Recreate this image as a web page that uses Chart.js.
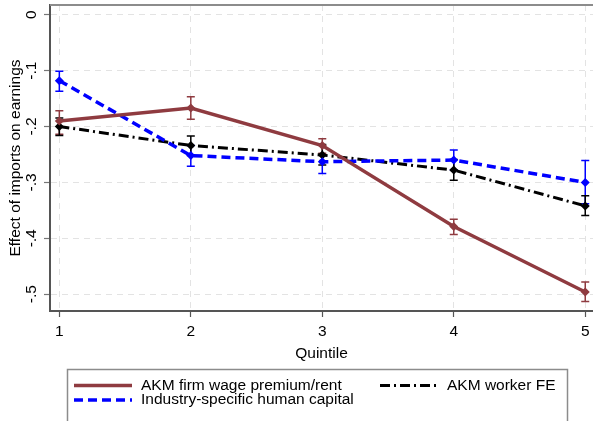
<!DOCTYPE html>
<html>
<head>
<meta charset="utf-8">
<script src="https://cdn.jsdelivr.net/npm/chart.js@4/dist/chart.umd.min.js"></script>
<style>
  html, body { margin: 0; padding: 0; background: #fff; overflow: hidden; }
  #wrap { width: 593px; height: 421px; }
</style>
</head>
<body>
<div id="wrap"><canvas id="chart" width="593" height="421"></canvas></div>
<script>
const FONT = "'Liberation Sans', Arial, sans-serif";

// quintiles on the x axis
const quintiles = [1, 2, 3, 4, 5];
const yTicks = [0, -0.1, -0.2, -0.3, -0.4, -0.5];

// AKM firm wage premium/rent: point estimate + 95% CI
const firmPremium = [-0.190, -0.167, -0.234, -0.379, -0.496];
const firmLo = [-0.214, -0.187, -0.248, -0.393, -0.513];
const firmHi = [-0.172, -0.147, -0.222, -0.366, -0.478];

// Industry-specific human capital
const humanCap = [-0.118, -0.252, -0.263, -0.260, -0.300];
const humanLo = [-0.137, -0.271, -0.284, -0.278, -0.338];
const humanHi = [-0.101, -0.234, -0.251, -0.242, -0.261];

// AKM worker FE
const workerFE = [-0.200, -0.234, -0.251, -0.278, -0.342];
const workerLo = [-0.216, -0.252, -0.269, -0.296, -0.359];
const workerHi = [-0.185, -0.217, -0.232, -0.259, -0.324];

const RED = "#8f3b40";
const BLUE = "#0000ff";
const BLACK = "#000000";

const toPoints = (vals) => vals.map((v, i) => ({ x: quintiles[i], y: v }));

// Stata-style labels: -.1 instead of -0.1
const fmt = (v) => {
  if (Math.abs(v) < 1e-9) return "0";
  return (v < 0 ? "-" : "") + Math.abs(v).toFixed(1).replace(/^0/, "");
};

// caps for the confidence intervals
const errorBars = {
  id: "errorBars",
  beforeDatasetsDraw(chart) {
    const { ctx, scales: { x, y } } = chart;
    chart.data.datasets.forEach((ds) => {
      ctx.save();
      ctx.strokeStyle = ds.borderColor;
      ctx.lineWidth = 1.5;
      ctx.setLineDash([]);
      ds.ci.lo.forEach((lo, i) => {
        const px = x.getPixelForValue(quintiles[i]);
        const y1 = y.getPixelForValue(lo);
        const y2 = y.getPixelForValue(ds.ci.hi[i]);
        ctx.beginPath();
        ctx.moveTo(px, y1); ctx.lineTo(px, y2);
        ctx.moveTo(px - 4, y1); ctx.lineTo(px + 4, y1);
        ctx.moveTo(px - 4, y2); ctx.lineTo(px + 4, y2);
        ctx.stroke();
      });
      ctx.restore();
    });
  }
};

// vertical y tick labels, top border and the boxed legend
const decorations = {
  id: "decorations",
  afterDraw(chart) {
    const { ctx, chartArea, scales: { y } } = chart;
    ctx.save();

    ctx.strokeStyle = "#8c8c8c";
    ctx.lineWidth = 2;
    ctx.beginPath();
    ctx.moveTo(chartArea.left, chartArea.top);
    ctx.lineTo(chartArea.right, chartArea.top);
    ctx.stroke();

    ctx.fillStyle = "#000";
    ctx.font = "15.5px " + FONT;
    ctx.textAlign = "center";
    ctx.textBaseline = "middle";
    y.ticks.forEach((t) => {
      ctx.save();
      ctx.translate(31.5, y.getPixelForValue(t.value));
      ctx.rotate(-Math.PI / 2);
      ctx.fillText(t.label, 0, 0);
      ctx.restore();
    });

    ctx.strokeStyle = "#8c8c8c";
    ctx.lineWidth = 1.5;
    ctx.strokeRect(67.5, 369.5, 500, 70);

    const items = [
      { ds: chart.data.datasets[0], x: 74, y: 385.5 },
      { ds: chart.data.datasets[2], x: 380, y: 385.5 },
      { ds: chart.data.datasets[1], x: 74, y: 400 }
    ];
    ctx.textAlign = "left";
    items.forEach(({ ds, x, y: ly }) => {
      ctx.strokeStyle = ds.borderColor;
      ctx.lineWidth = ds.borderWidth;
      ctx.setLineDash(ds.borderDash || []);
      ctx.beginPath();
      ctx.moveTo(x, ly);
      ctx.lineTo(x + 58, ly);
      ctx.stroke();
      ctx.setLineDash([]);
      ctx.fillStyle = "#000";
      ctx.fillText(ds.label, x + 67, ly);
    });
    ctx.restore();
  }
};

const series = (label, vals, lo, hi, color, width, dash) => ({
  label,
  data: toPoints(vals),
  ci: { lo, hi },
  borderColor: color,
  backgroundColor: color,
  borderWidth: width,
  borderDash: dash,
  pointStyle: "rectRot",
  pointRadius: 4.5,
  pointBorderWidth: 0,
  pointBackgroundColor: color,
  tension: 0,
  fill: false
});

new Chart(document.getElementById("chart"), {
  type: "line",
  data: {
    datasets: [
      series("AKM firm wage premium/rent", firmPremium, firmLo, firmHi, RED, 3.5, []),
      series("Industry-specific human capital", humanCap, humanLo, humanHi, BLUE, 3.5, [9, 5]),
      series("AKM worker FE", workerFE, workerLo, workerHi, BLACK, 3, [10, 4, 2, 4])
    ]
  },
  options: {
    responsive: false,
    animation: false,
    layout: { autoPadding: false, padding: { top: 5, left: 0, right: 0, bottom: 57 } },
    plugins: { legend: { display: false }, tooltip: { enabled: false } },
    scales: {
      x: {
        type: "linear",
        min: 0.929,
        max: 5.059,
        afterBuildTicks: (s) => { s.ticks = quintiles.map((v) => ({ value: v })); },
        afterFit: (s) => {
          s.height = 53;
          s.paddingLeft = 0;
          s.paddingRight = 0;
        },
        grid: {
          color: "#e3e3e3",
          lineWidth: 1,
          tickLength: 6,
          tickColor: "#555",
          tickWidth: 1.2,
          tickBorderDash: []
        },
        border: { display: true, color: "#555", width: 2, dash: [6, 5] },
        ticks: {
          color: "#000",
          font: { family: FONT, size: 15.5 },
          padding: 5.5,
          maxRotation: 0,
          callback: (v) => String(v)
        },
        title: {
          display: true,
          text: "Quintile",
          color: "#000",
          font: { family: FONT, size: 15.5 },
          padding: { top: 0, bottom: 1 }
        }
      },
      y: {
        min: -0.53,
        max: 0.0173,
        afterBuildTicks: (s) => { s.ticks = yTicks.map((v) => ({ value: v })); },
        afterFit: (s) => { s.width = 50; },
        grid: {
          color: "#e3e3e3",
          lineWidth: 1,
          tickLength: 6,
          tickColor: "#777",
          tickWidth: 1.2,
          tickBorderDash: []
        },
        border: { display: true, color: "#555", width: 2, dash: [6, 5] },
        ticks: { display: false, callback: fmt },
        title: {
          display: true,
          text: "Effect of imports on earnings",
          color: "#000",
          font: { family: FONT, size: 15.5 },
          padding: { top: 6, bottom: 0 }
        }
      }
    }
  },
  plugins: [errorBars, decorations]
});
</script>
</body>
</html>
